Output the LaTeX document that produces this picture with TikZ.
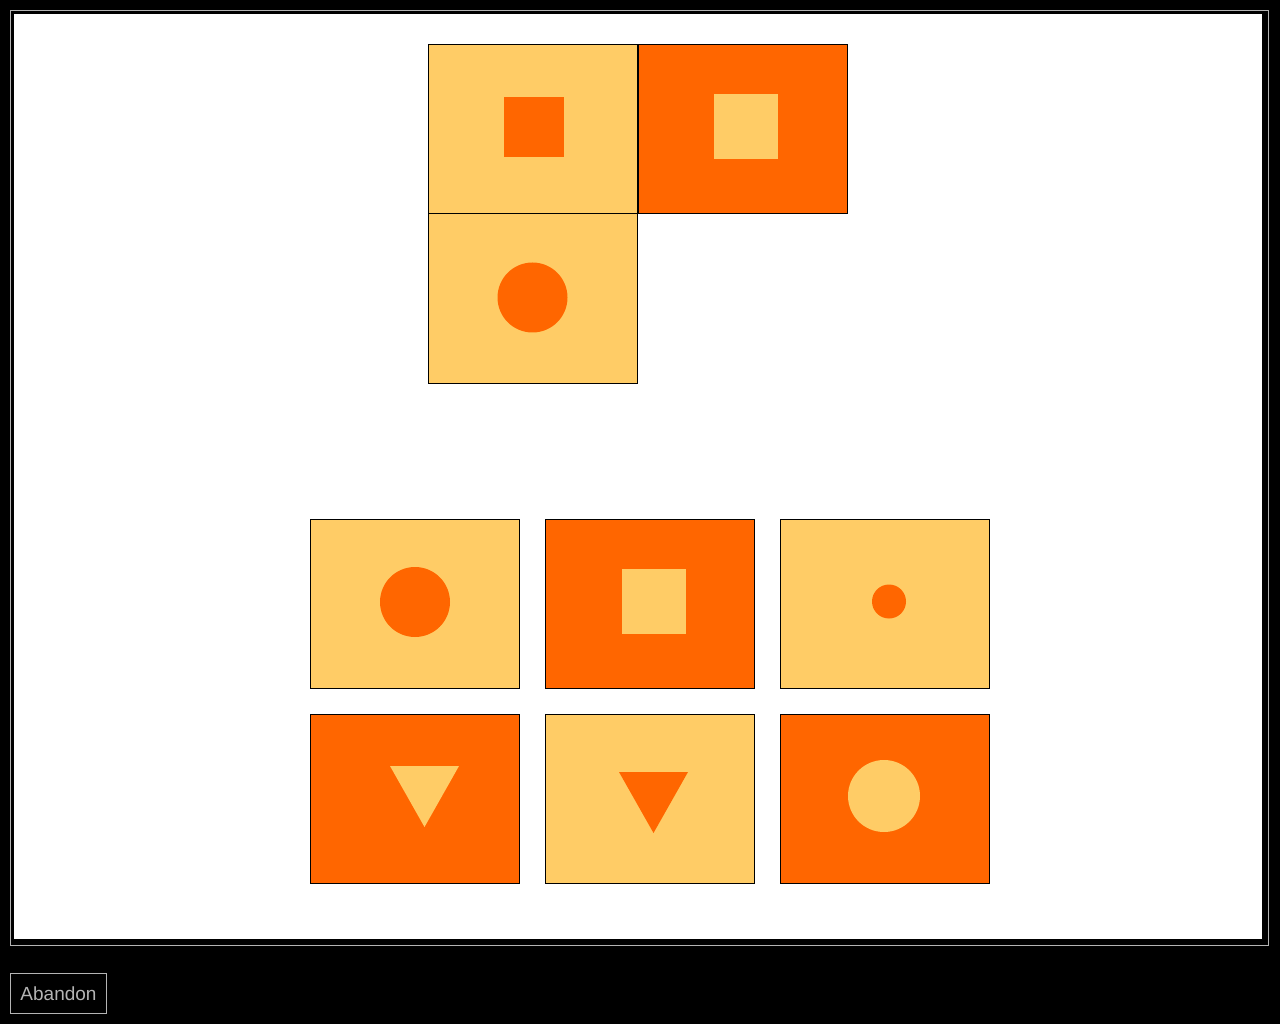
\documentclass[tikz,border=0pt]{standalone}
\usepackage{fontspec}
\setmainfont{Liberation Sans}
\usetikzlibrary{shapes.geometric}
\definecolor{lightor}{HTML}{FFCC66}
\definecolor{darkor}{HTML}{FF6600}
\definecolor{framegray}{HTML}{B4B4B4}
\begin{document}
\begin{tikzpicture}[x=1pt,y=-1pt,
  tile/.style={draw=black,line width=1pt,minimum width=209pt,minimum height=169pt,inner sep=0pt,outer sep=0pt,anchor=north west},
  lighttile/.style={tile,fill=lightor},
  darktile/.style={tile,fill=darkor}]
% background
\fill[black] (0,0) rectangle (1280,1024);
\useasboundingbox (0,0) rectangle (1280,1024);
\draw[framegray,line width=1.2pt] (10.5,10.5) rectangle (1268.5,945.5);
\fill[white] (14,14) rectangle (1262,939);
% top tiles
\node[lighttile] (t1) at (428.5,44.5) {};
\node[darktile] (t2) at (638.5,44.5) {};
\node[lighttile] (t3) at (428.5,214) {};
\fill[darkor] (504,97) rectangle (564,157);
\fill[lightor] (714,94) rectangle (778,159);
\fill[darkor] (532.5,297.5) circle (35);
% answer tiles
\node[lighttile] (a1) at (310,519) {};
\node[darktile] (a2) at (545,519) {};
\node[lighttile] (a3) at (780,519) {};
\node[darktile] (a4) at (310,714) {};
\node[lighttile] (a5) at (545,714) {};
\node[darktile] (a6) at (780,714) {};
\fill[darkor] (415,602) circle (35);
\fill[lightor] (622,569) rectangle (686,634);
\fill[darkor] (889,601.5) circle (17);
\fill[lightor] (390,766) -- (459,766) -- (424.5,827) -- cycle;
\fill[darkor] (619,772) -- (688,772) -- (653.5,833) -- cycle;
\fill[lightor] (884,796) circle (36);
% button
\node[draw=framegray,line width=1pt,minimum width=96pt,minimum height=40pt,inner sep=0pt,anchor=north west,text=framegray,font=\fontsize{19}{19}\selectfont] (abandon) at (10,973) {Abandon};
\end{tikzpicture}
\end{document}
